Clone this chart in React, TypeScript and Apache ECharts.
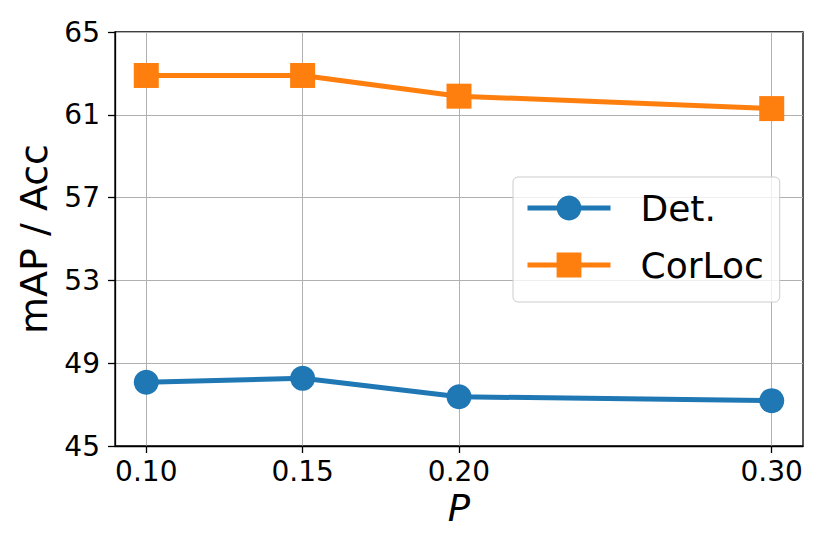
import React, { useEffect, useRef } from "react";
import * as echarts from "echarts";

const pValues = [0.1, 0.15, 0.2, 0.3];
const detValues = [48.08, 48.27, 47.38, 47.19];
const corLocValues = [62.9, 62.9, 61.9, 61.3];
const yTicks = [45, 49, 53, 57, 61, 65];
const xTicks = [0.1, 0.15, 0.2, 0.3];
const seriesNames = ["Det.", "CorLoc"];

const FONT = "DejaVu Sans";

export default function App() {
  const ref = useRef<HTMLDivElement>(null);
  useEffect(() => {
    if (!ref.current) return;
    const chart = echarts.init(ref.current, null, { renderer: "svg" });
    chart.setOption({
      animation: false,
      backgroundColor: "#ffffff",
      grid: {
        left: 115,
        right: 27,
        top: 32,
        bottom: 108,
        show: true,
        borderColor: "#000000",
        borderWidth: 1.3,
        backgroundColor: "transparent",
      },
      xAxis: {
        type: "value",
        min: 0.09,
        max: 0.31,
        name: "P",
        nameLocation: "middle",
        nameGap: 44,
        nameTextStyle: { fontFamily: FONT, fontSize: 37, fontStyle: "italic", color: "#000" },
        axisLine: { show: true, lineStyle: { color: "#000", width: 1.3 } },
        axisTick: { show: true, length: 7, lineStyle: { color: "#000", width: 1.3 }, customValues: xTicks },
        axisLabel: {
          customValues: xTicks,
          margin: 11,
          fontFamily: FONT,
          fontSize: 28,
          color: "#000",
          formatter: (v: number) => v.toFixed(2),
        },
        splitLine: { show: true, lineStyle: { color: "#b0b0b0", width: 1 } },
      },
      yAxis: {
        type: "value",
        min: 45,
        max: 65,
        name: "mAP / Acc",
        nameLocation: "middle",
        nameGap: 61,
        nameTextStyle: { fontFamily: FONT, fontSize: 38, color: "#000" },
        axisLine: { show: true, lineStyle: { color: "#000", width: 1.3 } },
        axisTick: { show: true, length: 7, lineStyle: { color: "#000", width: 1.3 }, customValues: yTicks },
        axisLabel: {
          customValues: yTicks,
          margin: 15,
          fontFamily: FONT,
          fontSize: 28,
          color: "#000",
        },
        splitLine: { show: true, lineStyle: { color: "#b0b0b0", width: 1 } },
      },
      legend: {
        orient: "vertical",
        left: 513,
        top: 177,
        padding: [13, 16, 19, 12],
        itemGap: 21,
        itemWidth: 83,
        itemHeight: 31,
        backgroundColor: "rgba(255,255,255,0.8)",
        borderColor: "#cccccc",
        borderWidth: 1,
        borderRadius: 5,
        textStyle: { fontFamily: FONT, fontSize: 36, color: "#000", padding: [0, 0, 0, 25] },
        lineStyle: { width: 5 },
        data: seriesNames,
      },
      series: [
        {
          name: seriesNames[0],
          type: "line",
          data: pValues.map((p, i) => [p, detValues[i]]),
          symbol: "circle",
          symbolSize: 25,
          color: "#1f77b4",
          lineStyle: { width: 5, color: "#1f77b4" },
          itemStyle: { color: "#1f77b4" },
          z: 3,
        },
        {
          name: seriesNames[1],
          type: "line",
          data: pValues.map((p, i) => [p, corLocValues[i]]),
          symbol: "rect",
          symbolSize: 25,
          color: "#ff7f0e",
          lineStyle: { width: 5, color: "#ff7f0e" },
          itemStyle: { color: "#ff7f0e" },
          z: 3,
        },
      ],
    });
    return () => chart.dispose();
  }, []);
  return <div ref={ref} style={{ width: 830, height: 554, position: "absolute", left: 0, top: 0 }} />;
}
